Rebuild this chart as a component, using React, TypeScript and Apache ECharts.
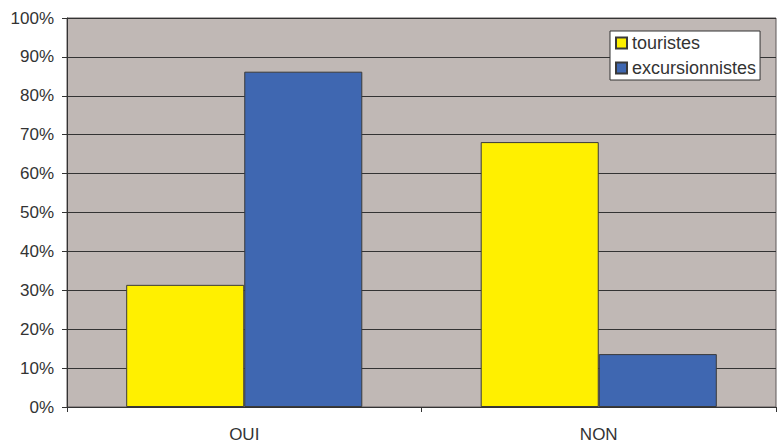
import React, { useEffect, useRef } from "react";
import * as echarts from "echarts";

// Survey answers, share of respondents in percent
const categories = ["OUI", "NON"];
const touristes = [31.4, 68.1];
const excursionnistes = [86.2, 13.6];
const seriesNames = ["touristes", "excursionnistes"];

const FONT = "'Liberation Sans', Arial, sans-serif";
const TEXT = "#333333";

export default function App() {
  const ref = useRef<HTMLDivElement>(null);

  useEffect(() => {
    if (!ref.current) return;
    const chart = echarts.init(ref.current, undefined, { renderer: "svg" });
    chart.setOption({
      animation: false,
      backgroundColor: "#ffffff",
      textStyle: { fontFamily: FONT },
      grid: {
        left: 67,
        right: 1,
        top: 18,
        bottom: 37,
        show: true,
        backgroundColor: "#c0b8b5",
        borderColor: "#5f5858",
        borderWidth: 1,
      },
      legend: {
        orient: "vertical",
        left: 610,
        top: 31,
        data: seriesNames,
        icon: "rect",
        itemWidth: 11,
        itemHeight: 11,
        itemGap: 7,
        padding: [3, 4, 3, 5],
        backgroundColor: "#ffffff",
        borderColor: "#333333",
        borderWidth: 1,
        borderRadius: 0,
        textStyle: { fontFamily: FONT, fontSize: 18, color: TEXT },
      },
      xAxis: {
        type: "category",
        data: categories,
        axisLine: { show: true, lineStyle: { color: "#333333", width: 1 } },
        axisTick: { show: true, length: 5, inside: false, lineStyle: { color: "#333333" } },
        axisLabel: { fontFamily: FONT, fontSize: 17, color: TEXT, margin: 19 },
        splitLine: { show: false },
      },
      yAxis: {
        type: "value",
        min: 0,
        max: 100,
        interval: 10,
        axisLine: { show: true, lineStyle: { color: "#333333", width: 1 } },
        axisTick: { show: true, length: 5, lineStyle: { color: "#333333" } },
        axisLabel: {
          fontFamily: FONT,
          fontSize: 17,
          color: TEXT,
          margin: 13,
          formatter: "{value}%",
        },
        splitLine: { show: true, lineStyle: { color: "#333333", width: 1 } },
      },
      series: [
        {
          name: seriesNames[0],
          type: "bar",
          data: touristes,
          barWidth: "33.3%",
          barGap: "0%",
          itemStyle: { color: "#fff000", borderColor: "#3a3a3a", borderWidth: 1 },
        },
        {
          name: seriesNames[1],
          type: "bar",
          data: excursionnistes,
          barWidth: "33.3%",
          barGap: "0%",
          itemStyle: { color: "#3f67b1", borderColor: "#3a3a3a", borderWidth: 1 },
        },
      ],
    });
    return () => chart.dispose();
  }, []);

  return (
    <div
      ref={ref}
      style={{ position: "fixed", left: 0, top: 0, width: 777, height: 444 }}
    />
  );
}
